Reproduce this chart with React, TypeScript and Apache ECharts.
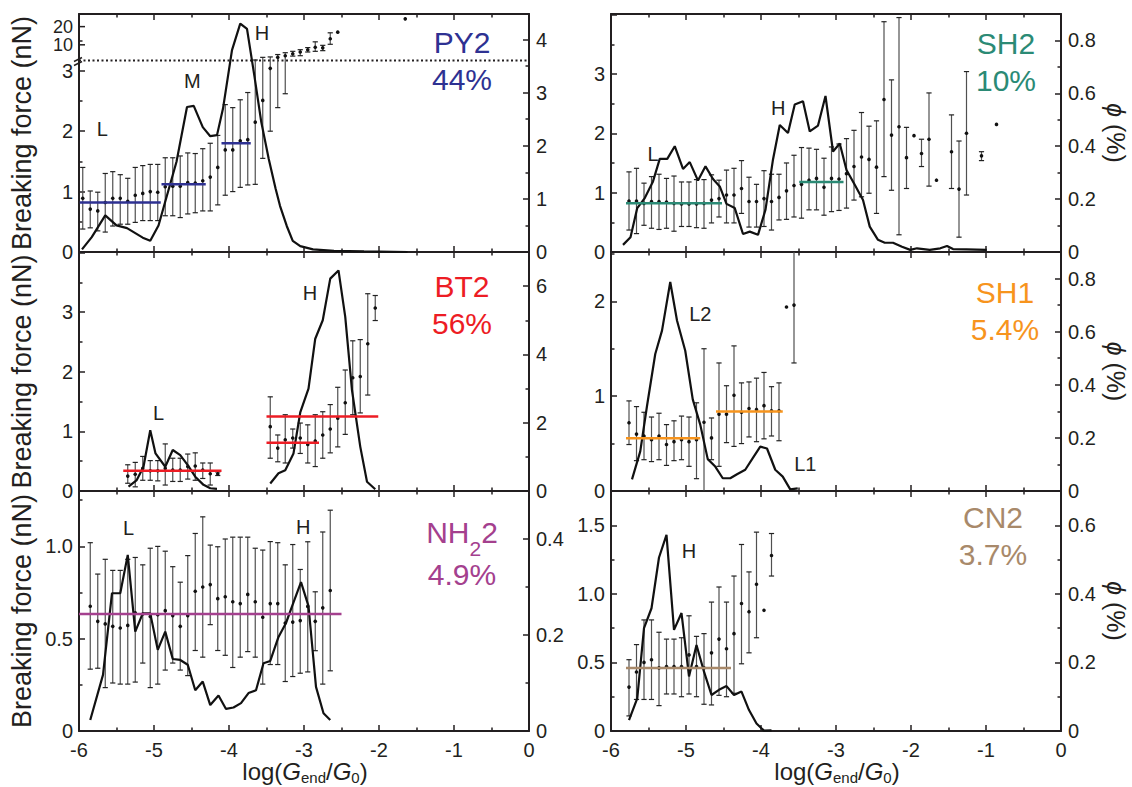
import React, { useEffect, useRef } from "react";
import * as echarts from "echarts";

const FONT = "'Liberation Sans', Arial, Helvetica, sans-serif";
const INK = "#231F20";

// ---------------- PY2 (top left) ----------------
// histogram: [log(G/G0), phi %]
const PY2_HIST = [
  [-5.96, 0.05], [-5.83, 0.28], [-5.65, 0.69], [-5.5, 0.5], [-5.36, 0.45], [-5.15, 0.27], [-5.05, 0.21],
  [-4.94, 0.5], [-4.83, 1.05], [-4.7, 1.7], [-4.56, 2.73], [-4.47, 2.75], [-4.35, 2.35], [-4.25, 2.18],
  [-4.16, 2.2], [-4.08, 2.7], [-3.96, 3.8], [-3.85, 4.3], [-3.76, 4.2], [-3.66, 3.3], [-3.57, 2.45],
  [-3.47, 1.75], [-3.38, 1.2], [-3.32, 0.87], [-3.23, 0.49], [-3.15, 0.21], [-3.05, 0.11], [-2.88, 0.05],
  [-2.6, 0.02], [-2.2, 0.01], [-1.62, 0.0],
];
// breaking force: [x, mean, low, high] in nN
const PY2_BARS = [
  [-5.95, 0.89, 0.38, 1.4], [-5.85, 0.71, 0.4, 1.01], [-5.75, 0.68, 0.35, 0.99], [-5.65, 0.82, 0.33, 1.3],
  [-5.55, 0.89, 0.43, 1.33], [-5.45, 0.89, 0.46, 1.28], [-5.35, 0.84, 0.46, 1.22], [-5.25, 0.94, 0.49, 1.4],
  [-5.15, 0.97, 0.52, 1.43], [-5.05, 1.0, 0.52, 1.45], [-4.95, 0.99, 0.52, 1.45], [-4.85, 1.08, 0.6, 1.56],
  [-4.75, 1.09, 0.6, 1.56], [-4.65, 1.09, 0.57, 1.59], [-4.55, 1.15, 0.63, 1.64], [-4.45, 1.14, 0.65, 1.63],
  [-4.35, 1.18, 0.68, 1.71], [-4.25, 1.24, 0.68, 1.8], [-4.15, 1.4, 0.78, 1.93], [-4.05, 1.69, 0.94, 2.44],
  [-3.95, 1.69, 1.0, 2.39], [-3.85, 1.84, 1.07, 2.52], [-3.75, 1.86, 1.11, 2.64], [-3.65, 2.15, 1.12, 5.6],
  [-3.55, 2.51, 1.55, 6.2], [-3.45, 3.04, 2.0, 6.3], [-3.35, 6.2, 2.39, 6.9], [-3.25, 6.6, 2.62, 7.4],
  [-3.15, 7.1, 6.5, 7.8], [-3.05, 7.6, 6.6, 8.3], [-2.95, 8.3, 7.6, 9.0], [-2.85, 9.1, 7.8, 11.2],
  [-2.75, 8.9, 8.0, 9.8], [-2.65, 12.6, 10.2, 15.8], [-2.55, 16.2, 16.2, 16.2], [-1.65, 26.9, 26.9, 26.9],
];
// mean levels: [xStart, xEnd, force]
const PY2_MEANS = [[-5.99, -4.91, 0.82], [-4.9, -4.31, 1.12], [-4.1, -3.71, 1.8]];
const PY2_TAGS: [string, number, number][] = [["L", -5.69, 2.03], ["M", -4.49, 2.83], ["H", -3.56, 15.8]];
const PY2_UPPER_TICKS = [10, 20];
const PY_BREAK_POS = 3.17; // axis break (linear below, logarithmic above)
const PY_LOG_OFFSET = 2.43;
const pyScale = (v: number) =>
  v <= PY_BREAK_POS ? v : Math.max(PY_BREAK_POS, PY_LOG_OFFSET + Math.log10(v));

// ---------------- BT2 (middle left) ----------------
const BT2_HIST_LOW = [
  [-5.34, 0.13], [-5.23, 0.32], [-5.14, 0.71], [-5.05, 1.78], [-4.98, 1.1], [-4.85, 0.71], [-4.75, 1.2],
  [-4.65, 1.05], [-4.55, 0.76], [-4.45, 0.42], [-4.34, 0.18], [-4.25, 0.08], [-4.16, 0.06],
];
const BT2_HIST_HIGH = [
  [-3.45, 0.22], [-3.34, 0.52], [-3.25, 0.61], [-3.14, 1.1], [-3.05, 2.3], [-2.94, 3.0], [-2.85, 4.46],
  [-2.75, 5.0], [-2.65, 6.22], [-2.54, 6.46], [-2.45, 5.1], [-2.36, 2.95], [-2.25, 1.3], [-2.16, 0.27],
  [-2.05, 0.05],
];
const BT2_BARS = [
  [-5.35, 0.25, 0.13, 0.44], [-5.25, 0.28, 0.07, 0.48], [-5.15, 0.38, 0.18, 0.58], [-5.05, 0.34, 0.18, 0.51],
  [-4.95, 0.34, 0.17, 0.51], [-4.85, 0.38, 0.1, 0.79], [-4.75, 0.35, 0.16, 0.55], [-4.65, 0.35, 0.16, 0.55],
  [-4.55, 0.41, 0.2, 0.62], [-4.45, 0.42, 0.18, 0.64], [-4.35, 0.35, 0.21, 0.47], [-4.25, 0.29, 0.1, 0.47],
  [-4.15, 0.29, 0.26, 0.32],
  [-3.45, 1.08, 0.55, 1.58], [-3.35, 0.72, 0.49, 0.94], [-3.25, 0.86, 0.47, 1.28], [-3.15, 0.89, 0.72, 1.04],
  [-3.05, 0.89, 0.63, 1.14], [-2.95, 0.78, 0.47, 1.11], [-2.85, 0.84, 0.41, 1.28], [-2.75, 0.94, 0.55, 1.33],
  [-2.65, 1.04, 0.64, 1.45], [-2.55, 1.22, 0.74, 1.74], [-2.45, 1.48, 0.95, 2.03], [-2.35, 1.9, 1.28, 2.52],
  [-2.25, 1.92, 1.31, 2.54], [-2.15, 2.47, 1.61, 3.31], [-2.05, 3.07, 2.86, 3.28],
];
const BT2_MEANS = [[-5.41, -4.1, 0.34], [-3.5, -2.8, 0.81], [-3.5, -2.01, 1.25]];
const BT2_TAGS: [string, number, number][] = [["L", -4.94, 1.31], ["H", -2.92, 3.32]];

// ---------------- NH2 (bottom left) ----------------
const NH2_HIST = [
  [-5.85, 0.023], [-5.68, 0.117], [-5.56, 0.287], [-5.45, 0.287], [-5.35, 0.367], [-5.25, 0.207],
  [-5.15, 0.245], [-5.05, 0.245], [-4.95, 0.169], [-4.85, 0.207], [-4.75, 0.15], [-4.65, 0.148],
  [-4.55, 0.138], [-4.45, 0.085], [-4.35, 0.103], [-4.25, 0.054], [-4.14, 0.074], [-4.04, 0.046],
  [-3.94, 0.049], [-3.84, 0.058], [-3.74, 0.079], [-3.64, 0.085], [-3.54, 0.141], [-3.45, 0.146],
  [-3.34, 0.196], [-3.24, 0.225], [-3.14, 0.268], [-3.04, 0.31], [-2.94, 0.26], [-2.84, 0.092],
  [-2.74, 0.037], [-2.65, 0.023],
];
const NH2_BARS = [
  [-5.85, 0.676, 0.335, 1.02], [-5.75, 0.594, 0.34, 0.85], [-5.65, 0.58, 0.235, 0.93], [-5.55, 0.567, 0.26, 0.87],
  [-5.45, 0.558, 0.254, 0.87], [-5.35, 0.572, 0.254, 0.93], [-5.25, 0.64, 0.265, 0.94], [-5.15, 0.634, 0.368, 0.9],
  [-5.05, 0.62, 0.235, 0.99], [-4.95, 0.63, 0.254, 1.0], [-4.85, 0.652, 0.33, 0.974], [-4.75, 0.625, 0.368, 0.89],
  [-4.65, 0.567, 0.33, 0.806], [-4.55, 0.625, 0.3, 0.95], [-4.45, 0.757, 0.436, 1.07], [-4.35, 0.78, 0.4, 1.16],
  [-4.25, 0.793, 0.576, 1.007], [-4.15, 0.717, 0.436, 0.998], [-4.05, 0.727, 0.41, 1.04], [-3.95, 0.7, 0.344, 1.05],
  [-3.85, 0.69, 0.4, 1.05], [-3.75, 0.74, 0.43, 1.05], [-3.65, 0.7, 0.4, 0.99], [-3.55, 0.616, 0.254, 0.98],
  [-3.45, 0.69, 0.36, 1.026], [-3.35, 0.69, 0.36, 1.02], [-3.25, 0.585, 0.268, 0.9], [-3.15, 0.59, 0.295, 1.01],
  [-3.05, 0.598, 0.313, 0.875], [-2.95, 0.675, 0.32, 1.025], [-2.85, 0.594, 0.435, 0.754],
  [-2.75, 0.667, 0.254, 1.078], [-2.65, 0.761, 0.326, 1.196],
];
const NH2_MEANS = [[-6.0, -2.5, 0.634]];
const NH2_TAGS: [string, number, number][] = [["L", -5.34, 1.1], ["H", -3.01, 1.105]];

// ---------------- SH2 (top right) ----------------
const SH2_HIST = [
  [-5.84, 0.027], [-5.74, 0.056], [-5.65, 0.166], [-5.55, 0.204], [-5.44, 0.267], [-5.35, 0.352], [-5.25, 0.352],
  [-5.15, 0.4], [-5.04, 0.314], [-4.95, 0.34], [-4.84, 0.27], [-4.74, 0.324], [-4.64, 0.276], [-4.55, 0.248],
  [-4.46, 0.182], [-4.35, 0.166], [-4.24, 0.068], [-4.15, 0.077], [-4.04, 0.065], [-3.94, 0.16], [-3.84, 0.35],
  [-3.75, 0.48], [-3.64, 0.45], [-3.55, 0.558], [-3.44, 0.57], [-3.35, 0.456], [-3.24, 0.478], [-3.14, 0.59],
  [-3.04, 0.38], [-2.95, 0.41], [-2.86, 0.31], [-2.75, 0.254], [-2.64, 0.197], [-2.55, 0.096], [-2.44, 0.046],
  [-2.35, 0.035], [-2.24, 0.035], [-2.12, 0.02], [-2.01, 0.008], [-1.92, 0.014], [-1.75, 0.008], [-1.61, 0.014],
  [-1.52, 0.023], [-1.44, 0.011], [-1.26, 0.01], [-0.99, 0.008],
];
const SH2_BARS = [
  [-5.76, 0.86, 0.37, 1.35], [-5.66, 0.86, 0.31, 1.41], [-5.56, 0.82, 0.45, 1.16], [-5.46, 0.85, 0.4, 1.27],
  [-5.36, 0.85, 0.38, 1.31], [-5.26, 0.84, 0.4, 1.24], [-5.16, 0.82, 0.35, 1.28], [-5.06, 0.81, 0.43, 1.18],
  [-4.96, 0.81, 0.43, 1.18], [-4.86, 0.81, 0.41, 1.22], [-4.76, 0.82, 0.4, 1.22], [-4.66, 0.875, 0.49, 1.3],
  [-4.56, 0.9, 0.59, 1.21], [-4.46, 0.96, 0.49, 1.38], [-4.36, 0.96, 0.49, 1.41], [-4.26, 1.07, 0.65, 1.54],
  [-4.16, 0.85, 0.42, 1.26], [-4.06, 0.85, 0.42, 1.14], [-3.96, 0.9, 0.43, 1.37], [-3.86, 0.85, 0.37, 1.31],
  [-3.76, 0.92, 0.54, 1.31], [-3.66, 1.03, 0.55, 1.5], [-3.56, 1.12, 0.59, 1.63], [-3.46, 1.14, 0.57, 1.76],
  [-3.36, 1.21, 0.71, 1.75], [-3.26, 1.24, 0.71, 1.73], [-3.16, 1.09, 0.62, 1.58], [-3.06, 1.24, 0.68, 1.77],
  [-2.96, 1.23, 0.7, 1.82], [-2.86, 1.32, 0.74, 1.91], [-2.76, 1.44, 0.875, 2.05], [-2.66, 1.6, 0.93, 2.35],
  [-2.56, 1.56, 0.99, 2.12], [-2.46, 1.43, 0.65, 2.21], [-2.36, 2.57, 1.27, 3.88], [-2.26, 1.97, 1.04, 2.9],
  [-2.16, 2.11, 0.29, 3.95], [-2.06, 1.59, 1.07, 2.1], [-1.96, 1.96, 1.96, 1.96], [-1.86, 1.66, 1.44, 1.9],
  [-1.76, 1.9, 1.11, 2.68], [-1.66, 1.21, 1.21, 1.21], [-1.46, 1.69, 1.07, 2.31], [-1.36, 1.06, 0.25, 1.87],
  [-1.26, 2.0, 0.96, 3.04], [-1.06, 1.62, 1.54, 1.69], [-0.86, 2.15, 2.15, 2.15],
];
const SH2_MEANS = [[-5.8, -4.52, 0.82], [-3.49, -2.9, 1.18]];
const SH2_TAGS: [string, number, number][] = [["L", -5.44, 1.65], ["H", -3.77, 2.42]];

// ---------------- SH1 (middle right) ----------------
const SH1_HIST = [
  [-5.72, 0.044], [-5.61, 0.149], [-5.52, 0.32], [-5.41, 0.516], [-5.32, 0.604], [-5.21, 0.787], [-5.12, 0.642],
  [-5.01, 0.528], [-4.91, 0.345], [-4.81, 0.25], [-4.71, 0.12], [-4.61, 0.092], [-4.51, 0.048], [-4.41, 0.048],
  [-4.32, 0.063], [-4.21, 0.08], [-4.11, 0.124], [-4.01, 0.167], [-3.92, 0.16], [-3.81, 0.08], [-3.71, 0.054],
  [-3.61, 0.006], [-3.51, 0.01],
];
const SH1_BARS = [
  [-5.76, 0.72, 0.49, 0.95], [-5.66, 0.6, 0.32, 0.89], [-5.56, 0.58, 0.33, 0.83], [-5.46, 0.54, 0.31, 0.78],
  [-5.36, 0.58, 0.33, 0.82], [-5.26, 0.49, 0.27, 0.7], [-5.16, 0.52, 0.32, 0.74], [-5.06, 0.54, 0.33, 0.79],
  [-4.96, 0.52, 0.26, 0.78], [-4.86, 0.54, 0.13, 0.93], [-4.76, 0.725, 0.0, 1.5], [-4.66, 0.56, 0.33, 0.77],
  [-4.56, 0.81, 0.26, 1.35], [-4.46, 0.81, 0.51, 1.11], [-4.36, 1.01, 0.47, 1.53], [-4.26, 0.83, 0.5, 1.14],
  [-4.16, 0.87, 0.57, 1.15], [-4.06, 0.86, 0.52, 1.19], [-3.96, 0.9, 0.55, 1.25], [-3.86, 0.845, 0.58, 1.1],
  [-3.76, 0.845, 0.53, 1.14], [-3.66, 1.94, 1.94, 1.94], [-3.56, 1.96, 1.35, 2.6],
];
const SH1_MEANS = [[-5.8, -4.81, 0.556], [-4.6, -3.71, 0.837]];
const SH1_TAGS: [string, number, number][] = [["L2", -4.81, 1.87], ["L1", -3.41, 0.285]];

// ---------------- CN2 (bottom right) ----------------
const CN2_HIST = [
  [-5.76, 0.032], [-5.65, 0.095], [-5.56, 0.3], [-5.46, 0.358], [-5.36, 0.506], [-5.26, 0.572], [-5.16, 0.295],
  [-5.06, 0.344], [-4.96, 0.159], [-4.86, 0.251], [-4.76, 0.173], [-4.66, 0.105], [-4.56, 0.12], [-4.46, 0.131],
  [-4.36, 0.105], [-4.26, 0.115], [-4.16, 0.061], [-4.06, 0.022], [-3.96, 0.001], [-3.86, 0.002],
];
const CN2_BARS = [
  [-5.76, 0.32, 0.11, 0.52], [-5.66, 0.43, 0.23, 0.63], [-5.56, 0.5, 0.23, 0.81], [-5.46, 0.52, 0.23, 0.81],
  [-5.36, 0.46, 0.185, 0.72], [-5.26, 0.47, 0.27, 0.67], [-5.16, 0.47, 0.27, 0.67], [-5.06, 0.47, 0.25, 0.68],
  [-4.96, 0.555, 0.27, 0.84], [-4.86, 0.47, 0.25, 0.69], [-4.76, 0.46, 0.195, 0.71], [-4.66, 0.57, 0.19, 0.94],
  [-4.56, 0.67, 0.26, 1.05], [-4.46, 0.6, 0.25, 0.94], [-4.36, 0.71, 0.275, 1.13], [-4.26, 0.93, 0.49, 1.36],
  [-4.16, 0.87, 0.57, 1.16], [-4.06, 1.07, 0.68, 1.45], [-3.96, 0.88, 0.88, 0.88], [-3.86, 1.28, 1.13, 1.44],
];
const CN2_MEANS = [[-5.8, -4.4, 0.46]];
const CN2_TAGS: [string, number, number][] = [["H", -4.96, 1.31]];

// ---------------- layout ----------------
const COLS = [{ left: 79, width: 450 }, { left: 611, width: 450 }];
const ROWS = [{ top: 14, height: 238 }, { top: 252, height: 239 }, { top: 491, height: 240 }];

type AxisSpec = { max: number; interval: number; decimals: number };
type Panel = {
  name: string; pct: string; color: string; row: number; col: number;
  hist: number[][][]; bars: number[][]; means: number[][]; tags: [string, number, number][];
  left: AxisSpec; right: AxisSpec; title: [number, number]; pctLine?: number;
  scale?: (v: number) => number;
};

const PANELS: Panel[] = [
  { name: "{n|PY2}", pct: "44%", color: "#2E3192", row: 0, col: 0, hist: [PY2_HIST], bars: PY2_BARS,
    means: PY2_MEANS, tags: PY2_TAGS, left: { max: 3.94, interval: 1, decimals: 0 },
    right: { max: 4.48, interval: 1, decimals: 0 }, title: [462, 61], scale: pyScale },
  { name: "{n|BT2}", pct: "56%", color: "#ED1C24", row: 1, col: 0, hist: [BT2_HIST_LOW, BT2_HIST_HIGH],
    bars: BT2_BARS, means: BT2_MEANS, tags: BT2_TAGS, left: { max: 4.01, interval: 1, decimals: 0 },
    right: { max: 7.0, interval: 2, decimals: 0 }, title: [462, 305] },
  { name: "{n|NH}{s|2}{n|2}", pct: "4.9%", color: "#A4408E", row: 2, col: 0, hist: [NH2_HIST], bars: NH2_BARS,
    means: NH2_MEANS, tags: NH2_TAGS, left: { max: 1.3, interval: 0.5, decimals: 1 },
    right: { max: 0.5, interval: 0.2, decimals: 1 }, title: [462, 556], pctLine: 47 },
  { name: "{n|SH2}", pct: "10%", color: "#2B8A75", row: 0, col: 1, hist: [SH2_HIST], bars: SH2_BARS,
    means: SH2_MEANS, tags: SH2_TAGS, left: { max: 4.01, interval: 1, decimals: 0 },
    right: { max: 0.9, interval: 0.2, decimals: 1 }, title: [1006, 62] },
  { name: "{n|SH1}", pct: "5.4%", color: "#F7941D", row: 1, col: 1, hist: [SH1_HIST], bars: SH1_BARS,
    means: SH1_MEANS, tags: SH1_TAGS, left: { max: 2.52, interval: 1, decimals: 0 },
    right: { max: 0.9, interval: 0.2, decimals: 1 }, title: [1005, 311] },
  { name: "{n|CN2}", pct: "3.7%", color: "#A8896A", row: 2, col: 1, hist: [CN2_HIST], bars: CN2_BARS,
    means: CN2_MEANS, tags: CN2_TAGS, left: { max: 1.75, interval: 0.5, decimals: 1 },
    right: { max: 0.7, interval: 0.2, decimals: 1 }, title: [993, 536] },
];

const tickFormatter = (a: AxisSpec) => (v: number) => {
  const k = v / a.interval;
  if (Math.abs(k - Math.round(k)) > 1e-6) return "";
  if (v > a.max - 0.05 * a.interval) return "";
  if (Math.abs(v) < 1e-9) return "0";
  return v.toFixed(a.decimals);
};

const axisLineStyle = { color: INK, width: 2 };
const tickStyle = { color: INK, width: 1.5 };

function xAxisCfg(gridIndex: number, position: string, showLabels: boolean) {
  return {
    type: "value", gridIndex, position, min: -6, max: 0, interval: 1,
    axisLine: { show: true, onZero: false, lineStyle: axisLineStyle },
    axisTick: { show: true, inside: true, length: 6, lineStyle: tickStyle },
    minorTick: { show: true, splitNumber: 2, length: 3.5, lineStyle: tickStyle },
    axisLabel: { show: showLabels, margin: 9, fontSize: 20, color: INK, fontFamily: FONT, formatter: (v: number) => String(v) },
    splitLine: { show: false },
  };
}

function yAxisCfg(gridIndex: number, position: string, a: AxisSpec) {
  return {
    type: "value", gridIndex, position, min: 0, max: a.max, interval: a.interval,
    axisLine: { show: true, onZero: false, lineStyle: axisLineStyle },
    axisTick: { show: true, inside: true, length: 6, lineStyle: tickStyle },
    minorTick: { show: true, splitNumber: 2, length: 3.5, lineStyle: tickStyle },
    axisLabel: { show: true, margin: position === "left" ? 6 : 7, fontSize: 20, color: INK, fontFamily: FONT, formatter: tickFormatter(a) },
    splitLine: { show: false },
  };
}

function errorBarItem(params: any, api: any) {
  const x = api.value(0), y = api.value(1), lo = api.value(2), hi = api.value(3);
  const cs = params.coordSys;
  const c = api.coord([x, y]);
  const kids: any[] = [];
  if (hi - lo > 1e-9) {
    const pl = api.coord([x, lo]);
    const ph = api.coord([x, hi]);
    const yTop = Math.max(ph[1], cs.y);
    const yBot = Math.min(pl[1], cs.y + cs.height);
    kids.push({ type: "line", shape: { x1: c[0], y1: yTop, x2: c[0], y2: yBot }, style: { stroke: "#505050", lineWidth: 1.2 } });
    if (ph[1] >= cs.y) kids.push({ type: "line", shape: { x1: c[0] - 2.6, y1: ph[1], x2: c[0] + 2.6, y2: ph[1] }, style: { stroke: "#222", lineWidth: 1.2 } });
    if (pl[1] <= cs.y + cs.height) kids.push({ type: "line", shape: { x1: c[0] - 2.6, y1: pl[1], x2: c[0] + 2.6, y2: pl[1] }, style: { stroke: "#222", lineWidth: 1.2 } });
  }
  kids.push({ type: "circle", shape: { cx: c[0], cy: c[1], r: 1.8 }, style: { fill: "#111" } });
  return { type: "group", children: kids };
}

function buildOption() {
  const grid: any[] = [], xAxis: any[] = [], yAxis: any[] = [], series: any[] = [], graphic: any[] = [];

  PANELS.forEach((p, i) => {
    const m = p.scale || ((v: number) => v);
    grid.push({ left: COLS[p.col].left, width: COLS[p.col].width, top: ROWS[p.row].top, height: ROWS[p.row].height });
    xAxis.push(xAxisCfg(i, "bottom", p.row === 2));
    xAxis.push(xAxisCfg(i, "top", false));
    yAxis.push(yAxisCfg(i, "left", p.left));
    yAxis.push(yAxisCfg(i, "right", p.right));
    const xi = 2 * i, yl = 2 * i, yr = 2 * i + 1;

    series.push({
      type: "custom", xAxisIndex: xi, yAxisIndex: yl, silent: true, z: 2,
      data: p.bars.map((b) => [b[0], m(b[1]), m(b[2]), m(b[3])]),
      encode: { x: 0, y: [1, 2, 3] }, renderItem: errorBarItem,
    });
    p.hist.forEach((seg) => series.push({
      type: "line", xAxisIndex: xi, yAxisIndex: yr, data: seg, symbol: "none", silent: true, z: 3,
      lineStyle: { color: "#111", width: 2.2 },
    }));
    p.means.forEach(([x0, x1, y]) => series.push({
      type: "line", xAxisIndex: xi, yAxisIndex: yl, data: [[x0, m(y)], [x1, m(y)]], symbol: "none", silent: true, z: 4,
      lineStyle: { color: p.color, width: 2.5 },
    }));
    const tags = p.tags;
    series.push({
      type: "custom", xAxisIndex: xi, yAxisIndex: yl, silent: true, z: 5,
      data: tags.map((t) => [t[1], m(t[2])]), encode: { x: 0, y: 1 },
      renderItem: (params: any, api: any) => {
        const c = api.coord([api.value(0), api.value(1)]);
        return { type: "text", x: c[0], y: c[1], style: { text: tags[params.dataIndex][0], fontSize: 20, fontFamily: FONT, fill: INK, align: "center", verticalAlign: "middle" } };
      },
    });

    if (p.scale) {
      // dotted break line
      series.push({
        type: "line", xAxisIndex: xi, yAxisIndex: yl, data: [[-6, PY_BREAK_POS], [0, PY_BREAK_POS]], symbol: "none", silent: true, z: 1,
        lineStyle: { color: INK, width: 2, type: [2, 2.5] },
      });
      // log-scale labels above the break
      series.push({
        type: "custom", xAxisIndex: xi, yAxisIndex: yl, silent: true, z: 5,
        data: PY2_UPPER_TICKS.map((v) => [-6, pyScale(v)]), encode: { x: 0, y: 1 },
        renderItem: (params: any, api: any) => {
          const c = api.coord([api.value(0), api.value(1)]);
          return { type: "group", children: [
            { type: "line", shape: { x1: c[0], y1: c[1], x2: c[0] + 6, y2: c[1] }, style: { stroke: INK, lineWidth: 1.5 } },
            { type: "text", x: c[0] - 6, y: c[1], style: { text: String(PY2_UPPER_TICKS[params.dataIndex]), fontSize: 18, fontFamily: FONT, fill: INK, align: "right", verticalAlign: "middle" } },
          ] };
        },
      });
      // break marks on the axis
      series.push({
        type: "custom", xAxisIndex: xi, yAxisIndex: yl, silent: true, z: 5,
        data: [[-6, PY_BREAK_POS]], encode: { x: 0, y: 1 },
        renderItem: (params: any, api: any) => {
          const c = api.coord([api.value(0), api.value(1)]);
          return { type: "group", children: [
            { type: "line", shape: { x1: c[0] - 5, y1: c[1] + 1, x2: c[0] + 3, y2: c[1] - 3 }, style: { stroke: INK, lineWidth: 1.5 } },
            { type: "line", shape: { x1: c[0] - 5, y1: c[1] + 5, x2: c[0] + 3, y2: c[1] + 1 }, style: { stroke: INK, lineWidth: 1.5 } },
          ] };
        },
      });
    }

    // panel title
    graphic.push({
      type: "text", x: p.title[0], y: p.title[1], silent: true,
      style: {
        text: p.name + "\n{p|" + p.pct + "}", align: "center", verticalAlign: "middle", fill: p.color,
        rich: {
          n: { fontSize: 30, fontFamily: FONT, fill: p.color, lineHeight: 37 },
          p: { fontSize: 30, fontFamily: FONT, fill: p.color, lineHeight: p.pctLine || 37 },
          s: { fontSize: 21, fontFamily: FONT, fill: p.color, verticalAlign: "top", lineHeight: 37, padding: [24, 0, 0, 0] },
        },
      },
    });

    const cy = ROWS[p.row].top + ROWS[p.row].height / 2;
    if (p.col === 0) {
      graphic.push({
        type: "text", x: 22, y: cy, rotation: Math.PI / 2, silent: true,
        style: { text: "Breaking force (nN)", fontSize: 27, fontFamily: FONT, fill: INK, align: "center", verticalAlign: "middle" },
      });
    } else {
      graphic.push({
        type: "text", x: 1116, y: cy, rotation: -Math.PI / 2, silent: true,
        style: {
          text: "{i|ϕ}{n| (%)}", align: "center", verticalAlign: "middle",
          rich: { i: { fontSize: 25, fontFamily: FONT, fontStyle: "italic", fill: INK }, n: { fontSize: 25, fontFamily: FONT, fill: INK } },
        },
      });
    }
    if (p.row === 2) {
      const cx = COLS[p.col].left + COLS[p.col].width * 0.5 + 1;
      graphic.push({
        type: "text", x: cx, y: 771, silent: true,
        style: {
          text: "{n|log(}{i|G}{s|end}{n|/}{i|G}{s|0}{n|)}", align: "center", verticalAlign: "middle",
          rich: {
            n: { fontSize: 24, fontFamily: FONT, fill: INK, lineHeight: 26 },
            i: { fontSize: 24, fontFamily: FONT, fontStyle: "italic", fill: INK, lineHeight: 26 },
            s: { fontSize: 15, fontFamily: FONT, fill: INK, verticalAlign: "top", lineHeight: 26, padding: [12, 0, 0, 0] },
          },
        },
      });
    }
  });

  return { animation: false, backgroundColor: "#ffffff", grid, xAxis, yAxis, series, graphic };
}

export default function App() {
  const ref = useRef<HTMLDivElement>(null);
  useEffect(() => {
    document.body.style.margin = "0";
    const chart = echarts.init(ref.current!, undefined, { renderer: "svg" });
    chart.setOption(buildOption() as any);
    return () => chart.dispose();
  }, []);
  return <div ref={ref} style={{ width: 1132, height: 787 }} />;
}
